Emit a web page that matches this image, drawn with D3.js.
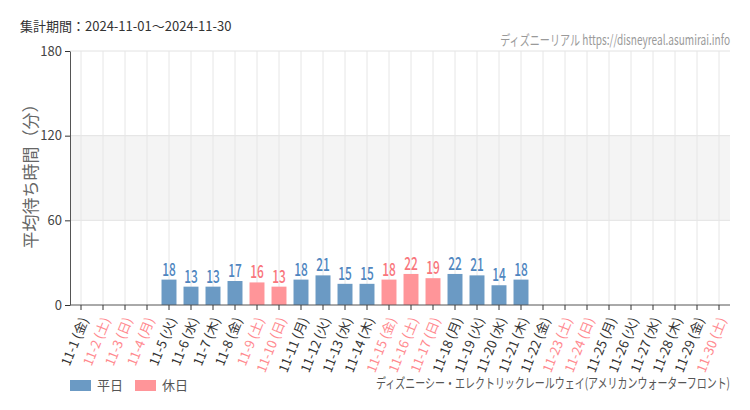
<!DOCTYPE html>
<html>
<head>
<meta charset="utf-8">
<script src="https://cdn.jsdelivr.net/npm/d3@7"></script>
<style>
  body { margin: 0; background: #fff; }
  text { font-family: "Noto Sans CJK JP", "Noto Sans", sans-serif; }
</style>
</head>
<body>
<svg id="chart" width="750" height="410"></svg>
<script>
// data
var days = ["11-1","11-2","11-3","11-4","11-5","11-6","11-7","11-8","11-9","11-10",
            "11-11","11-12","11-13","11-14","11-15","11-16","11-17","11-18","11-19","11-20",
            "11-21","11-22","11-23","11-24","11-25","11-26","11-27","11-28","11-29","11-30"];
var weekdays = ["金","土","日","月","火","水","木","金","土","日",
                "月","火","水","木","金","土","日","月","火","水",
                "木","金","土","日","月","火","水","木","金","土"];
var holiday = [0,1,1,1,0,0,0,0,1,1,
               0,0,0,0,1,1,1,0,0,0,
               0,0,1,1,0,0,0,0,0,1];
var waits = [null,null,null,null,18,13,13,17,16,13,
             18,21,15,15,18,22,19,22,21,14,
             18,null,null,null,null,null,null,null,null,null];
var yTicks = [0, 60, 120, 180];
var legendItems = ["平日", "休日"];

var blue = "#6b9ac4", pink = "#ff9599";
var blueText = "#4f86bf", pinkText = "#f9767c";

var svg = d3.select("#chart");
var margin = {left: 70, right: 20, top: 51, bottom: 105};
var W = 750, H = 410;

var x = d3.scaleBand().domain(days).range([margin.left, W - margin.right]).paddingInner(0.32).paddingOuter(0.16);
var y = d3.scaleLinear().domain([0, 180]).range([H - margin.bottom, margin.top]);

// title
svg.append("text").attr("x", 20).attr("y", 31).attr("font-size", 13).attr("fill", "#333")
  .text("集計期間：2024-11-01～2024-11-30");

// credit (condensed)
svg.append("text").attr("transform", "translate(730,45) scale(0.72,1)")
  .attr("text-anchor", "end").attr("font-size", 14).attr("fill", "#9a9a9a")
  .text("ディズニーリアル https://disneyreal.asumirai.info");

// band shading 60-120
svg.append("rect").attr("x", margin.left).attr("width", W - margin.right - margin.left)
  .attr("y", y(120)).attr("height", y(60) - y(120)).attr("fill", "#f4f4f4");

// horizontal grid
svg.append("g").selectAll("line").data(yTicks.slice(1)).enter().append("line")
  .attr("x1", margin.left).attr("x2", W - margin.right)
  .attr("y1", function (d) { return y(d); }).attr("y2", function (d) { return y(d); })
  .attr("stroke", "#e2e2e2");

// vertical grid at category centres
svg.append("g").selectAll("line").data(days).enter().append("line")
  .attr("x1", function (d) { return x(d) + x.bandwidth() / 2; })
  .attr("x2", function (d) { return x(d) + x.bandwidth() / 2; })
  .attr("y1", y(180)).attr("y2", y(0))
  .attr("stroke", "#e6e6e6");

// bars
var rows = days.map(function (d, i) { return {day: d, v: waits[i], hol: holiday[i]}; })
  .filter(function (r) { return r.v !== null; });

svg.append("g").selectAll("rect").data(rows).enter().append("rect")
  .attr("x", function (r) { return x(r.day); })
  .attr("width", x.bandwidth())
  .attr("y", function (r) { return y(r.v); })
  .attr("height", function (r) { return y(0) - y(r.v); })
  .attr("fill", function (r) { return r.hol ? pink : blue; });

// value labels (condensed)
svg.append("g").selectAll("text").data(rows).enter().append("text")
  .attr("transform", function (r) {
    return "translate(" + (x(r.day) + x.bandwidth() / 2) + "," + (y(r.v) - 4) + ") scale(0.66,1)";
  })
  .attr("text-anchor", "middle").attr("font-size", 18).attr("font-weight", 500)
  .attr("fill", function (r) { return r.hol ? pinkText : blueText; })
  .text(function (r) { return r.v; });

// y axis
var yAxis = svg.append("g").attr("transform", "translate(" + margin.left + ",0)")
  .call(d3.axisLeft(y).tickValues(yTicks).tickSize(5).tickSizeOuter(0));
yAxis.select(".domain").attr("stroke", "#555");
yAxis.selectAll(".tick line").attr("stroke", "#333");
yAxis.selectAll("text").attr("font-size", 13).attr("fill", "#444")
  .attr("font-family", "Roboto, sans-serif");

// x axis
var xAxis = svg.append("g").attr("transform", "translate(0," + y(0) + ")")
  .call(d3.axisBottom(x).tickSize(5).tickSizeOuter(0).tickFormat(function (d, i) {
    return d + " (" + weekdays[i] + ")";
  }));
xAxis.select(".domain").attr("stroke", "#555").attr("d", "M" + margin.left + ",0H" + (W - margin.right));
xAxis.selectAll(".tick line").attr("stroke", "#333");
xAxis.selectAll("text")
  .attr("font-size", 13)
  .attr("fill", function (d, i) { return holiday[i] ? "#ff8a8f" : "#333"; })
  .attr("text-anchor", "end")
  .attr("dy", "0.35em")
  .attr("transform", "translate(-4,10) rotate(-68)");

// y axis title
svg.append("text").attr("transform", "translate(37,172) rotate(-90)")
  .attr("text-anchor", "middle").attr("font-size", 17).attr("fill", "#666")
  .text("平均待ち時間（分）");

// legend
var legend = svg.append("g").selectAll("g").data(legendItems).enter().append("g")
  .attr("transform", function (d, i) { return "translate(" + (70 + i * 65) + ",380)"; });
legend.append("rect").attr("width", 21).attr("height", 11)
  .attr("fill", function (d, i) { return i ? pink : blue; });
legend.append("text").attr("x", 27).attr("y", 10).attr("font-size", 13).attr("fill", "#555")
  .text(function (d) { return d; });

// attraction name
svg.append("text").attr("transform", "translate(730,388) scale(0.74,1)").attr("text-anchor", "end")
  .attr("font-size", 13.5).attr("fill", "#555")
  .text("ディズニーシー・エレクトリックレールウェイ(アメリカンウォーターフロント)");
</script>
</body>
</html>
